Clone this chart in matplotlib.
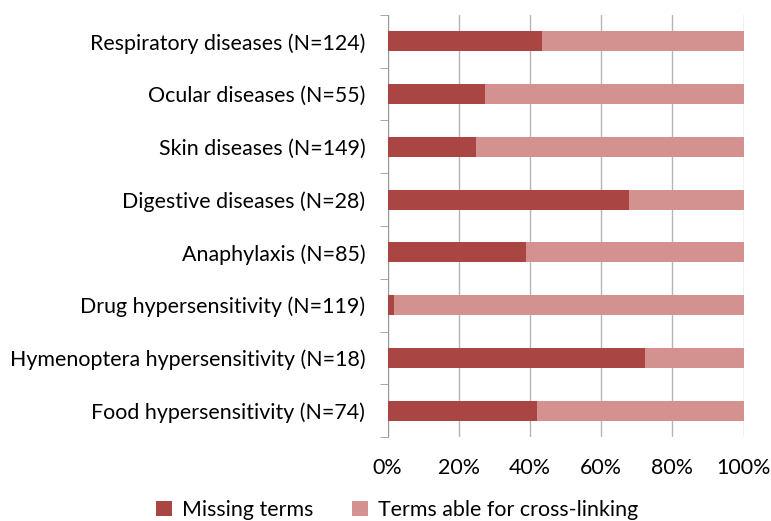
import numpy as np
import matplotlib.pyplot as plt
from matplotlib.ticker import PercentFormatter

plt.rcParams['font.family'] = ['Lato', 'DejaVu Sans']

categories = ["Respiratory diseases (N=124)", "Ocular diseases (N=55)",
              "Skin diseases (N=149)", "Digestive diseases (N=28)",
              "Anaphylaxis (N=85)", "Drug hypersensitivity (N=119)",
              "Hymenoptera hypersensitivity (N=18)", "Food hypersensitivity (N=74)"]
missing = [43.5, 27.3, 24.8, 67.9, 38.8, 1.7, 72.2, 41.9]
crosslink = [100 - m for m in missing]

fig = plt.figure(figsize=(7.71, 5.21), dpi=100)
ax = fig.add_axes([387.5 / 771, 1 - 437 / 521, 356 / 771, 422 / 521])

y = np.arange(len(categories))[::-1]
ax.barh(y, missing, height=0.38, color='#A94543', label='Missing terms', zorder=3)
ax.barh(y, crosslink, left=missing, height=0.38, color='#D39190',
        label='Terms able for cross-linking', zorder=3)

ax.set_xlim(0, 100)
ax.set_ylim(-0.5, len(categories) - 0.5)
ax.set_xticks(np.arange(0, 101, 20))
ax.xaxis.set_major_formatter(PercentFormatter(decimals=0))
ax.set_yticks(y)
ax.set_yticklabels(categories)
ax.set_yticks(np.arange(-0.5, len(categories), 1), minor=True)
ax.tick_params(axis='y', which='major', length=0, pad=16, labelsize=15.4)
ax.tick_params(axis='y', which='minor', length=6, color='#9a9a9a')
ax.tick_params(axis='x', length=0, pad=15, labelsize=15.4)
ax.grid(axis='x', color='#b5b5b5', linewidth=1, zorder=0)
for s in ['top', 'right', 'bottom']:
    ax.spines[s].set_visible(False)
ax.spines['left'].set_color('#9a9a9a')

fig.legend(loc='lower center', bbox_to_anchor=(0.515, -0.035), ncol=2, frameon=False,
           fontsize=15.4, handlelength=0.75, handleheight=0.75, columnspacing=1.8,
           handletextpad=0.45)

fig.savefig('out.png', dpi=100)
